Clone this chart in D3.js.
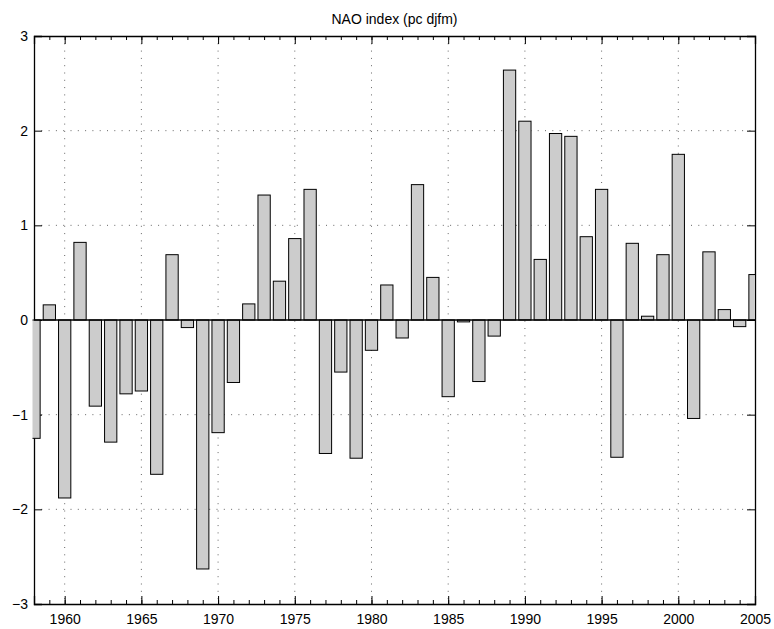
<!DOCTYPE html>
<html>
<head>
<meta charset="utf-8">
<script src="https://cdn.jsdelivr.net/npm/d3@7"></script>
<style>
  body { margin: 0; background: #fff; }
  svg { display: block; font-family: "Liberation Sans", Arial, Helvetica, sans-serif; }
</style>
</head>
<body>
<script>
// NAO index, winter (djfm), one bar per year
var years = d3.range(1958, 2006);
var nao = [
  -1.25, 0.16, -1.88, 0.82, -0.91, -1.29, -0.78, -0.75, -1.63, 0.69,
  -0.08, -2.63, -1.19, -0.66, 0.17, 1.32, 0.41, 0.86, 1.38, -1.41,
  -0.55, -1.46, -0.32, 0.37, -0.19, 1.43, 0.45, -0.81, -0.02, -0.65,
  -0.17, 2.64, 2.10, 0.64, 1.97, 1.94, 0.88, 1.38, -1.45, 0.81,
  0.04, 0.69, 1.75, -1.04, 0.72, 0.11, -0.07, 0.48
];
var xTicks = [1960, 1965, 1970, 1975, 1980, 1985, 1990, 1995, 2000, 2005];
var yTicks = [-3, -2, -1, 0, 1, 2, 3];
var title = "NAO index (pc djfm)";

var data = years.map(function(y, i) { return {year: y, value: nao[i]}; });

var W = 774, H = 629;
var margin = {top: 36, right: 19, bottom: 25, left: 34};
var width = W - margin.left - margin.right;
var height = H - margin.top - margin.bottom;

var svg = d3.select("body")
  .append("svg")
  .attr("width", W)
  .attr("height", H);

var g = svg.append("g")
  .attr("transform", "translate(" + margin.left + "," + margin.top + ")");

var x = d3.scaleLinear().domain([1958, 2005]).range([0, width]);
var y = d3.scaleLinear().domain([-3, 3]).range([height, 0]);

// dotted grid
g.append("g").selectAll("line")
  .data(xTicks.filter(function(d) { return d > 1958 && d < 2005; }))
  .enter().append("line")
  .attr("x1", function(d) { return x(d); })
  .attr("x2", function(d) { return x(d); })
  .attr("y1", 0).attr("y2", height)
  .attr("stroke", "#666").attr("stroke-width", 1)
  .attr("stroke-dasharray", "1,6.3");

g.append("g").selectAll("line")
  .data(yTicks.filter(function(d) { return d > -3 && d < 3 && d !== 0; }))
  .enter().append("line")
  .attr("x1", 0).attr("x2", width)
  .attr("y1", function(d) { return y(d); })
  .attr("y2", function(d) { return y(d); })
  .attr("stroke", "#666").attr("stroke-width", 1)
  .attr("stroke-dasharray", "1,6.3");

// axes (box with inward ticks)
var minorYears = d3.range(1958, 2006);
g.append("g")
  .attr("transform", "translate(0," + height + ")")
  .call(d3.axisBottom(x).tickValues(minorYears).tickSize(-4).tickFormat(""))
  .call(function(a) { a.select(".domain").remove(); });
g.append("g")
  .call(d3.axisTop(x).tickValues(minorYears).tickSize(-4).tickFormat(""))
  .call(function(a) { a.select(".domain").remove(); });

var xAxis = g.append("g")
  .attr("transform", "translate(0," + height + ")")
  .call(d3.axisBottom(x).tickValues(xTicks).tickSize(-8).tickPadding(10).tickFormat(d3.format("d")));
g.append("g")
  .call(d3.axisTop(x).tickValues(xTicks).tickSize(-8).tickFormat(""));

var yAxis = g.append("g")
  .call(d3.axisLeft(y).tickValues(yTicks).tickSize(-8).tickPadding(6)
    .tickFormat(function(d) { return d < 0 ? "\u2212" + Math.abs(d) : d; }));
g.append("g")
  .attr("transform", "translate(" + width + ",0)")
  .call(d3.axisRight(y).tickValues(yTicks).tickSize(-8).tickFormat(""));

g.selectAll(".domain").attr("stroke", "#000").attr("stroke-width", 1.3);
g.selectAll(".tick line").attr("stroke", "#000");
g.selectAll(".tick text")
  .attr("fill", "#000")
  .style("font-size", "14px")
  .style("font-family", "Liberation Sans, Arial, sans-serif");

// bars
g.append("clipPath").attr("id", "clip")
  .append("rect").attr("x", -1.5).attr("y", -1).attr("width", width + 1.5).attr("height", height + 2);

g.append("g")
  .attr("clip-path", "url(#clip)")
  .selectAll("rect")
  .data(data)
  .enter().append("rect")
  .attr("x", function(d) { return x(d.year - 0.4); })
  .attr("width", function(d) { return x(d.year + 0.4) - x(d.year - 0.4); })
  .attr("y", function(d) { return y(Math.max(0, d.value)); })
  .attr("height", function(d) { return Math.abs(y(d.value) - y(0)); })
  .attr("fill", "#cccccc")
  .attr("stroke", "#000")
  .attr("stroke-width", 1);

// zero line
g.append("line")
  .attr("x1", 0).attr("x2", width)
  .attr("y1", y(0)).attr("y2", y(0))
  .attr("stroke", "#000").attr("stroke-width", 1.3);

svg.append("text")
  .attr("x", margin.left + width / 2)
  .attr("y", 24)
  .attr("text-anchor", "middle")
  .style("font-size", "14px")
  .text(title);
</script>
</body>
</html>
